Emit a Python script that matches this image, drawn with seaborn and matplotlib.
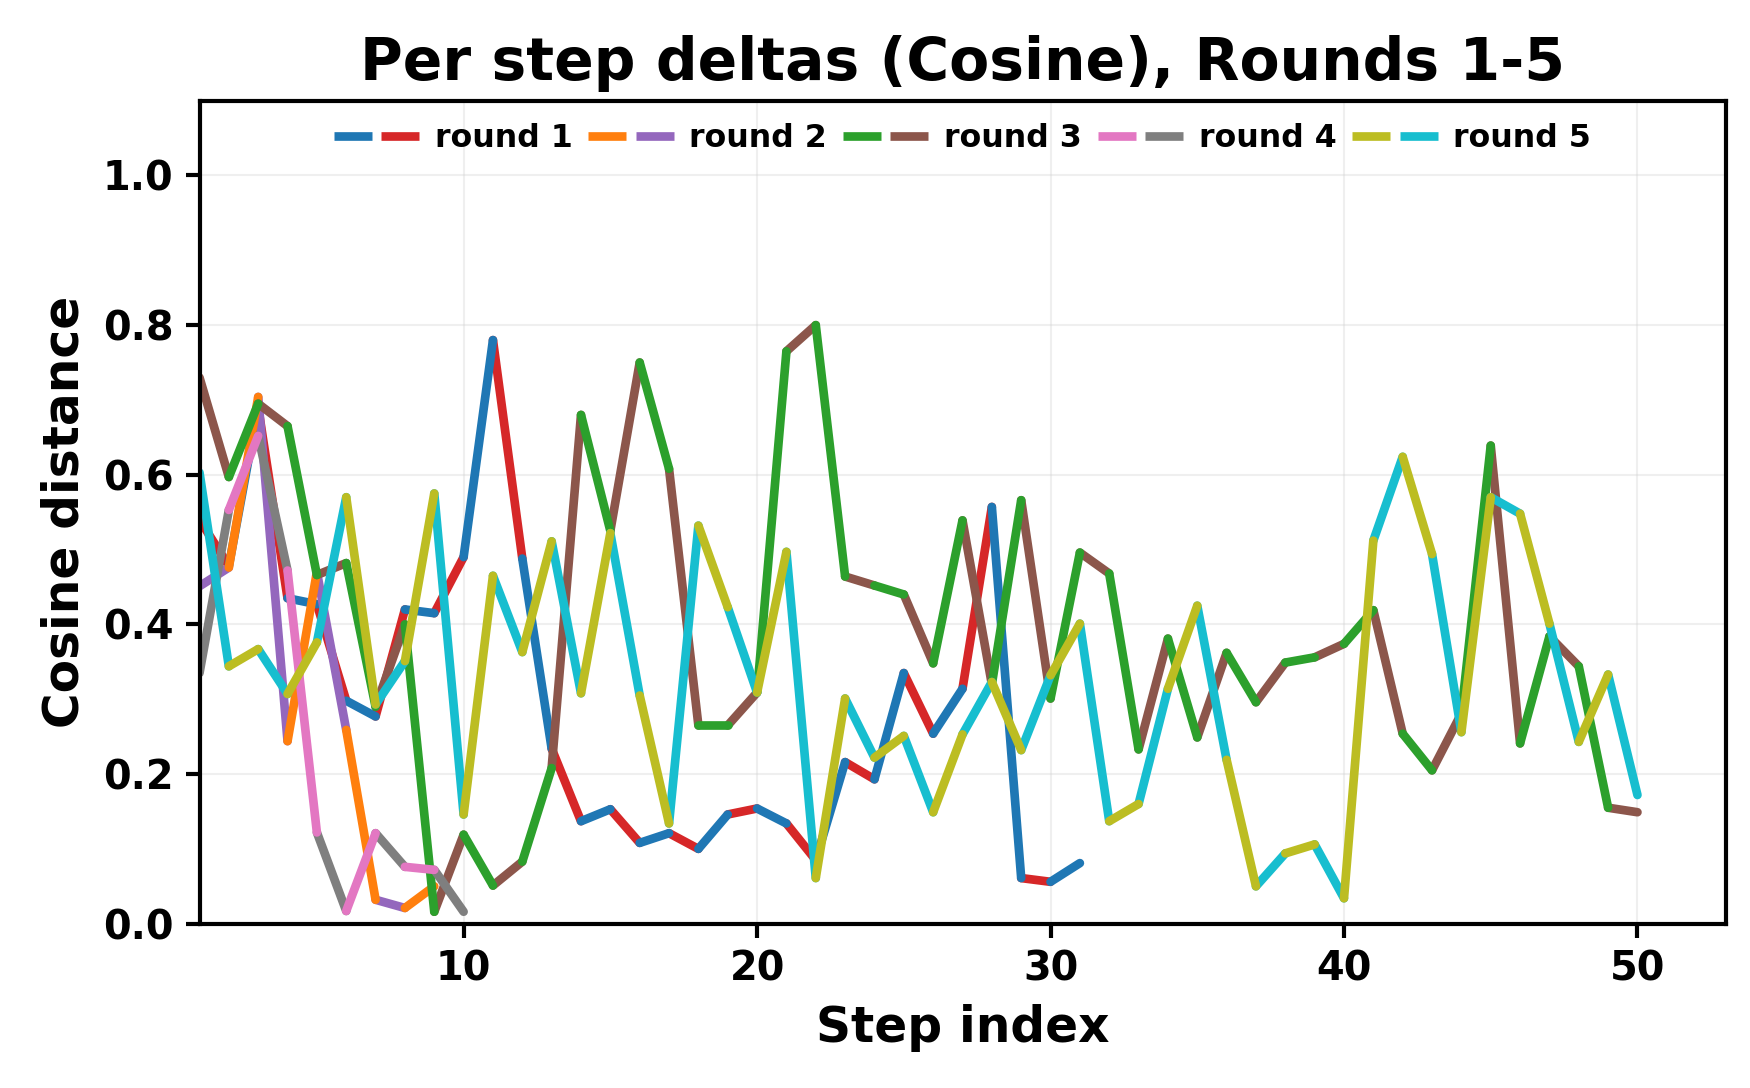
import pandas as pd
import seaborn as sns
import matplotlib
matplotlib.use("Agg")
import matplotlib.pyplot as plt
from matplotlib.lines import Line2D
from matplotlib.legend_handler import HandlerTuple

# --- data ---
round_names = ["round 1", "round 2", "round 3", "round 4", "round 5"]

round1 = [0.540, 0.478, 0.690, 0.435, 0.427, 0.298, 0.277, 0.420, 0.415, 0.490,
          0.780, 0.488, 0.234, 0.137, 0.153, 0.108, 0.121, 0.100, 0.146, 0.154,
          0.134, 0.085, 0.216, 0.193, 0.335, 0.254, 0.314, 0.557, 0.061, 0.056,
          0.081]
round2 = [0.451, 0.476, 0.704, 0.244, 0.470, 0.259, 0.032, 0.021, 0.050]
round3 = [0.730, 0.597, 0.695, 0.665, 0.466, 0.482, 0.290, 0.400, 0.016, 0.119,
          0.051, 0.083, 0.208, 0.680, 0.525, 0.750, 0.608, 0.265, 0.265, 0.309,
          0.765, 0.800, 0.464, 0.452, 0.440, 0.348, 0.539, 0.320, 0.566, 0.301,
          0.496, 0.468, 0.233, 0.381, 0.249, 0.362, 0.296, 0.349, 0.356, 0.374,
          0.419, 0.254, 0.205, 0.281, 0.639, 0.241, 0.384, 0.344, 0.155, 0.149]
round4 = [0.335, 0.553, 0.652, 0.472, 0.122, 0.017, 0.121, 0.076, 0.072, 0.016]
round5 = [0.603, 0.344, 0.367, 0.307, 0.376, 0.570, 0.293, 0.351, 0.575, 0.146,
          0.465, 0.363, 0.511, 0.308, 0.522, 0.305, 0.134, 0.532, 0.423, 0.309,
          0.497, 0.061, 0.301, 0.222, 0.251, 0.149, 0.253, 0.323, 0.232, 0.332,
          0.401, 0.137, 0.160, 0.314, 0.425, 0.219, 0.050, 0.094, 0.106, 0.034,
          0.512, 0.624, 0.494, 0.256, 0.570, 0.548, 0.401, 0.243, 0.333, 0.172]

# each round alternates two colours: (segment from even step, segment from odd step)
tab = sns.color_palette("tab10")
round_colors = [(tab[0], tab[3]), (tab[1], tab[4]), (tab[2], tab[5]),
                (tab[6], tab[7]), (tab[8], tab[9])]

all_rounds = [round1, round2, round3, round4, round5]

# --- style ---
sns.set_style("white")
plt.rcParams['font.family'] = ['DejaVu Sans']
plt.rcParams['font.weight'] = 'bold'
plt.rcParams['axes.labelweight'] = 'bold'
plt.rcParams['axes.titleweight'] = 'bold'
plt.rcParams['text.color'] = 'black'
plt.rcParams['axes.labelcolor'] = 'black'
plt.rcParams['xtick.color'] = 'black'
plt.rcParams['ytick.color'] = 'black'

LW = 2.5

fig, ax = plt.subplots(figsize=(7.0, 4.352), dpi=250)
fig.subplots_adjust(left=0.114, right=0.986, bottom=0.151, top=0.9075)

for vals, (c_even, c_odd) in zip(all_rounds, round_colors):
    rows = []
    for i in range(len(vals) - 1):
        step = i + 1
        part = "even" if step % 2 == 0 else "odd"
        rows.append({"seg": i, "part": part, "step": step, "value": vals[i]})
        rows.append({"seg": i, "part": part, "step": step + 1, "value": vals[i + 1]})
    seg_df = pd.DataFrame(rows)
    sns.lineplot(data=seg_df, x="step", y="value", hue="part", units="seg",
                 estimator=None, sort=False, palette={"even": c_even, "odd": c_odd},
                 linewidth=LW, solid_capstyle="round", legend=False, ax=ax)

# --- legend: two colour swatches per round ---
handles = []
for c_even, c_odd in round_colors:
    handles.append((Line2D([], [], color=c_even, lw=LW, solid_capstyle="butt"),
                    Line2D([], [], color=c_odd, lw=LW, solid_capstyle="butt")))
ax.legend(handles, round_names, handler_map={tuple: HandlerTuple(ndivide=None, pad=0.3)},
          loc="upper center", ncol=5, frameon=False,
          handlelength=2.7, handletextpad=0.5, columnspacing=0.5,
          prop={'weight': 'bold', 'size': 9.1}, borderaxespad=0.3)

ax.set_xlim(1, 53)
ax.set_ylim(0, 1.1)
ax.grid(True, alpha=0.3, linewidth=0.6)
ax.set_title("Per step deltas (Cosine), Rounds 1-5", fontsize=16.8, fontweight='bold')
ax.set_xlabel("Step index", fontsize=14, fontweight='bold')
ax.set_ylabel("Cosine distance", fontsize=14, fontweight='bold')
ax.tick_params(axis='both', labelsize=11.5, direction='out', length=4, width=1.2,
               color='black', labelcolor='black', left=True, bottom=True)
for lbl in ax.get_xticklabels() + ax.get_yticklabels():
    lbl.set_fontweight('bold')
for sp in ax.spines.values():
    sp.set_color('black')
    sp.set_linewidth(1.2)

fig.savefig("out.png", dpi=250)
